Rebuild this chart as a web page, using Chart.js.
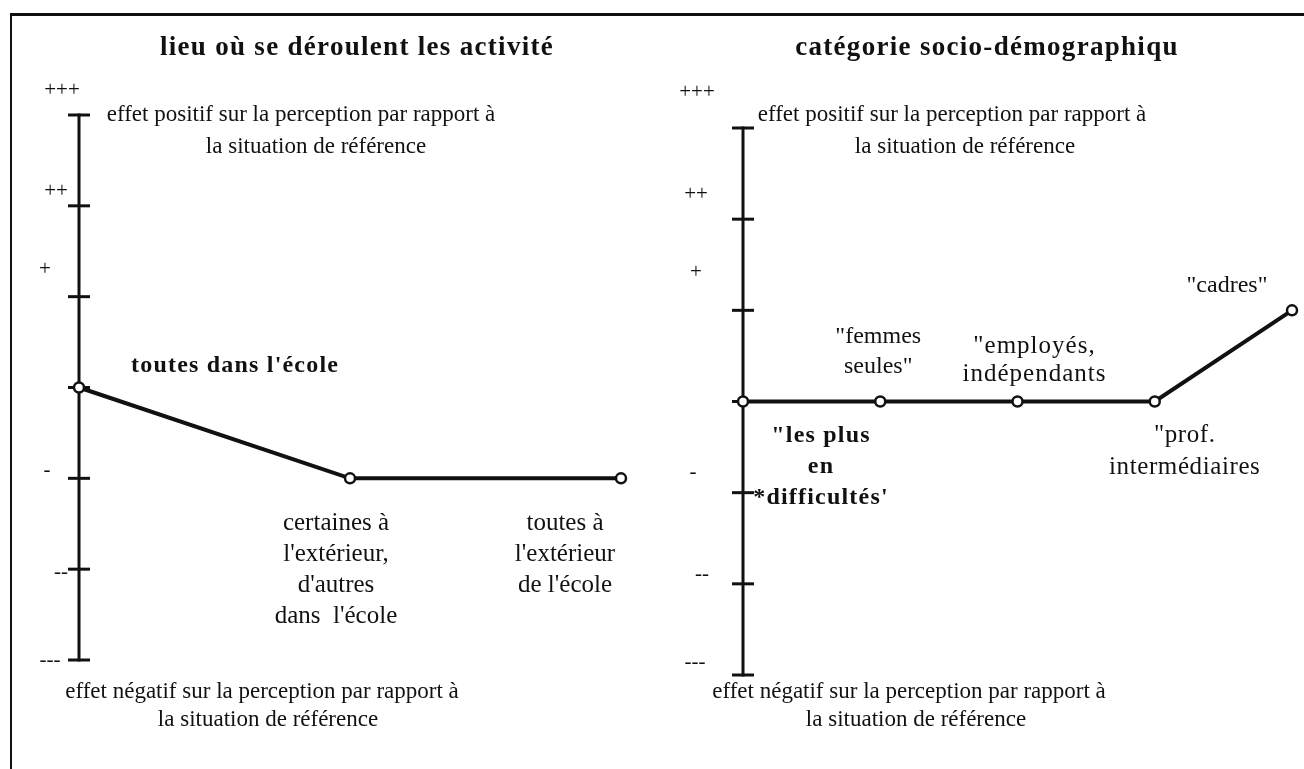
<!DOCTYPE html>
<html><head><meta charset="utf-8">
<script src="https://cdn.jsdelivr.net/npm/chart.js@4/dist/chart.umd.min.js"></script>
<style>
html,body{margin:0;padding:0;background:#fff;width:1304px;height:769px;overflow:hidden;}
#frame{position:absolute;left:10px;top:13px;width:1294px;height:756px;border-top:3px solid #111;border-left:2px solid #111;box-sizing:border-box;}
canvas{position:absolute;left:0;top:0;}
</style></head><body>
<div id="frame"></div>
<canvas id="left" width="1304" height="769"></canvas>
<canvas id="right" width="1304" height="769"></canvas>
<script>
// ---- data ----
const yTickValues = [3, 2, 1, 0, -1, -2, -3];
const yTickLabels = ['+++', '++', '+', '', '-', '--', '---'];

const leftTitle = "lieu où se déroulent les activité";
const leftCategories = [["toutes dans l'école"], ["certaines à", "l'extérieur,", "d'autres", "dans  l'école"], ["toutes à", "l'extérieur", "de l'école"]];
const leftValues = [0, -1, -1];

const rightTitle = "catégorie socio-démographiqu";
const rightCategories = [['"les plus', 'en', "*difficultés'"], ['"femmes', 'seules"'], ['"employés,', 'indépendants'], ['"prof.', 'intermédiaires'], ['"cadres"']];
const rightValues = [0, 0, 0, 0, 1];

const noteTop = ["effet positif sur la perception par rapport à", "la situation de référence"];
const noteBottom = ["effet négatif sur la perception par rapport à", "la situation de référence"];

// ---- drawing helpers ----
const INK = '#111';
const SERIF = '"Liberation Serif", "Times New Roman", serif';
function txt(ctx, s, x, y, font, align, spacing) {
  ctx.save();
  ctx.font = font; ctx.textAlign = align || 'center'; ctx.textBaseline = 'middle'; ctx.fillStyle = INK;
  if (spacing && 'letterSpacing' in ctx) ctx.letterSpacing = spacing + 'px';
  ctx.fillText(s, x, y);
  ctx.restore();
}

const schemaPlugin = {
  id: 'schema',
  beforeDatasetsDraw(chart, args, o) {
    const ctx = chart.ctx, xs = chart.scales.x, ys = chart.scales.y;
    const ax = xs.getPixelForValue(0);
    ctx.save();
    ctx.strokeStyle = INK; ctx.lineWidth = 3; ctx.lineCap = 'butt';
    ctx.beginPath();
    ctx.moveTo(ax, ys.getPixelForValue(yTickValues[0]) - 1.5);
    ctx.lineTo(ax, ys.getPixelForValue(yTickValues[yTickValues.length - 1]) + 1.5);
    ctx.stroke();
    yTickValues.forEach(v => {
      const py = ys.getPixelForValue(v);
      ctx.beginPath(); ctx.moveTo(ax - 11, py); ctx.lineTo(ax + 11, py); ctx.stroke();
    });
    ctx.restore();
  },
  afterDraw(chart, args, o) {
    const ctx = chart.ctx, xs = chart.scales.x, ys = chart.scales.y;
    const ax = xs.getPixelForValue(0);
    txt(ctx, o.title, o.titlePos[0], o.titlePos[1], 'bold 27px ' + SERIF, 'center', 1.3);
    noteTop.forEach((s, i) => txt(ctx, s, o.noteTop[i][0], o.noteTop[i][1], '23px ' + SERIF, 'center'));
    noteBottom.forEach((s, i) => txt(ctx, s, o.noteBottom[i][0], o.noteBottom[i][1], '23px ' + SERIF, 'center'));
    yTickLabels.forEach((s, i) => {
      if (!s) return;
      const n = o.tickNudge[i];
      txt(ctx, s, ax + n[0], ys.getPixelForValue(yTickValues[i]) + n[1], '21px ' + SERIF, 'center');
    });
    const meta = chart.getDatasetMeta(0);
    o.categories.forEach((lines, i) => {
      const c = o.catStyle[i], pt = meta.data[i];
      const font = (c.bold ? 'bold ' : '') + (c.size || 24) + 'px ' + SERIF;
      const sp = c.sp !== undefined ? c.sp : (c.bold ? 1.2 : 0);
      lines.forEach((s, k) => txt(ctx, s, pt.x + c.dx, pt.y + c.dy + k * c.lh, font, c.align || 'center', sp));
    });
  }
};

function makeChart(id, values, pad, opts) {
  return new Chart(document.getElementById(id), {
    type: 'line',
    data: {
      labels: values.map((_, i) => i),
      datasets: [{
        data: values.map((v, i) => ({ x: i, y: v })),
        borderColor: INK, borderWidth: 4, tension: 0,
        pointRadius: 5, pointBorderWidth: 2.5, pointBackgroundColor: '#fff', pointBorderColor: INK,
        clip: false
      }]
    },
    options: {
      responsive: false, animation: false, devicePixelRatio: 1,
      layout: { padding: pad },
      plugins: { legend: { display: false }, tooltip: { enabled: false }, schema: opts },
      scales: {
        x: { type: 'linear', min: 0, max: values.length - 1, display: false },
        y: { type: 'linear', min: -3, max: 3, display: false }
      }
    },
    plugins: [schemaPlugin]
  });
}

makeChart('left', leftValues, { left: 79, right: 683, top: 115, bottom: 109 }, {
  title: leftTitle, titlePos: [357, 48],
  noteTop: [[301, 115], [316, 147]],
  noteBottom: [[262, 692], [268, 720]],
  tickNudge: [[-17, -25], [-23, -14], [-34, -27], null, [-32, -8], [-18, 3], [-29, 0]],
  categories: leftCategories,
  catStyle: [
    { dx: 52, dy: -22, align: 'left', bold: true, lh: 31 },
    { dx: -14, dy: 45, lh: 31, size: 25 },
    { dx: -56, dy: 45, lh: 31, size: 25 }
  ]
});

makeChart('right', rightValues, { left: 743, right: 12, top: 128, bottom: 94 }, {
  title: rightTitle, titlePos: [987, 48],
  noteTop: [[952, 115], [965, 147]],
  noteBottom: [[909, 692], [916, 720]],
  tickNudge: [[-46, -36], [-47, -25], [-47, -38], null, [-50, -20], [-41, -9], [-48, -13]],
  categories: rightCategories,
  catStyle: [
    { dx: 78, dy: 34, bold: true, lh: 31 },
    { dx: -2, dy: -65, lh: 30 },
    { dx: 17, dy: -55, lh: 28, size: 25, sp: 1 },
    { dx: 30, dy: 34, lh: 32, size: 25, sp: 0.6 },
    { dx: -65, dy: -25, lh: 30 }
  ]
});
</script>
</body></html>
